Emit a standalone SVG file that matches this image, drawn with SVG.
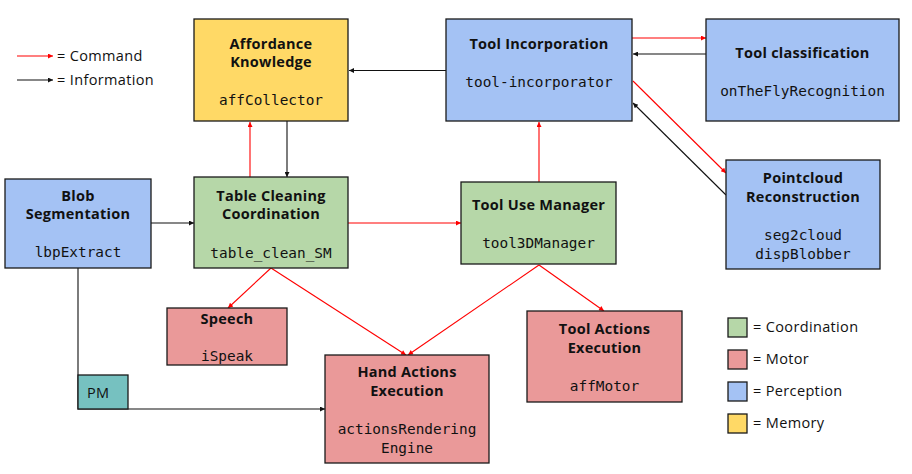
<svg xmlns="http://www.w3.org/2000/svg" width="912" height="474" viewBox="0 0 912 474">
<style>
.box{stroke:#1a1a1a;stroke-width:1.3}
.g{fill:#B6D7A8}.r{fill:#EA9999}.b{fill:#A4C2F4}.y{fill:#FFD966}.t{fill:#76C1C0}
.ti{font-family:"Open Sans",Lato,sans-serif;font-weight:bold;font-size:14.5px;letter-spacing:0.25px;fill:#111;text-anchor:middle}
.mo{font-family:"DejaVu Sans Mono","Liberation Mono",monospace;font-size:14.4px;fill:#111;text-anchor:middle}
.lg{font-family:"Open Sans",Lato,sans-serif;font-size:14.5px;letter-spacing:0.35px;fill:#111}
.cmd{stroke:#ff0000;stroke-width:1.1;fill:none}
.inf{stroke:#111;stroke-width:1.1;fill:none}
</style>
<defs>
<marker id="ar" viewBox="0 0 10 10" refX="10" refY="5" markerWidth="7" markerHeight="5" markerUnits="userSpaceOnUse" orient="auto"><path d="M0,0L10,5L0,10z" fill="#ff0000"/></marker>
<marker id="ab" viewBox="0 0 10 10" refX="10" refY="5" markerWidth="7" markerHeight="5" markerUnits="userSpaceOnUse" orient="auto"><path d="M0,0L10,5L0,10z" fill="#111"/></marker>
</defs>
<rect width="912" height="474" fill="#fff"/>

<g id="legend-arrows">
<line class="cmd" x1="17" y1="56" x2="53" y2="56" marker-end="url(#ar)"/>
<text class="lg" x="57" y="61">= Command</text>
<line class="inf" x1="17" y1="80" x2="53" y2="80" marker-end="url(#ab)"/>
<text class="lg" x="57" y="85">= Information</text>
</g>

<g id="connectors">
<line class="inf" x1="446" y1="70.5" x2="349" y2="70.5" marker-end="url(#ab)"/>
<line class="cmd" x1="632" y1="38" x2="706" y2="38" marker-end="url(#ar)"/>
<line class="inf" x1="706" y1="54" x2="633" y2="54" marker-end="url(#ab)"/>
<line class="cmd" x1="633" y1="81" x2="726" y2="173" marker-end="url(#ar)"/>
<line class="inf" x1="726" y1="195" x2="633" y2="103" marker-end="url(#ab)"/>
<line class="cmd" x1="250" y1="177" x2="250" y2="122" marker-end="url(#ar)"/>
<line class="inf" x1="287" y1="121" x2="287" y2="177" marker-end="url(#ab)"/>
<line class="inf" x1="151" y1="223" x2="194" y2="223" marker-end="url(#ab)"/>
<line class="cmd" x1="348" y1="223" x2="461" y2="223" marker-end="url(#ar)"/>
<line class="cmd" x1="539" y1="182" x2="539" y2="122" marker-end="url(#ar)"/>
<line class="cmd" x1="271" y1="268" x2="228" y2="308" marker-end="url(#ar)"/>
<line class="cmd" x1="271" y1="268" x2="406" y2="355" marker-end="url(#ar)"/>
<line class="cmd" x1="539" y1="265" x2="408" y2="355" marker-end="url(#ar)"/>
<line class="cmd" x1="539" y1="265" x2="604" y2="311" marker-end="url(#ar)"/>
<polyline class="inf" points="78,268 78,409 325,409" marker-end="url(#ab)"/>
</g>

<g id="affordance">
<rect class="box y" x="194" y="19" width="154" height="102"/>
<text class="ti" x="271" y="49">Affordance</text>
<text class="ti" x="271" y="67">Knowledge</text>
<text class="mo" x="271" y="105">affCollector</text>
</g>

<g id="tool-incorporation">
<rect class="box b" x="446" y="19" width="186" height="102"/>
<text class="ti" x="539" y="49">Tool Incorporation</text>
<text class="mo" x="539" y="87">tool-incorporator</text>
</g>

<g id="tool-classification">
<rect class="box b" x="706" y="19" width="193" height="102"/>
<text class="ti" x="802.5" y="58">Tool classification</text>
<text class="mo" x="802.5" y="96">onTheFlyRecognition</text>
</g>

<g id="pointcloud">
<rect class="box b" x="726" y="160" width="154" height="109"/>
<text class="ti" x="803" y="183">Pointcloud</text>
<text class="ti" x="803" y="202">Reconstruction</text>
<text class="mo" x="803" y="240">seg2cloud</text>
<text class="mo" x="803" y="259">dispBlobber</text>
</g>

<g id="blob-segmentation">
<rect class="box b" x="5" y="179" width="146" height="89"/>
<text class="ti" x="78" y="201">Blob</text>
<text class="ti" x="78" y="219">Segmentation</text>
<text class="mo" x="78" y="257">lbpExtract</text>
</g>

<g id="table-cleaning">
<rect class="box g" x="194" y="177" width="154" height="91"/>
<text class="ti" x="271" y="201">Table Cleaning</text>
<text class="ti" x="271" y="219">Coordination</text>
<text class="mo" x="271" y="258">table_clean_SM</text>
</g>

<g id="tool-use-manager">
<rect class="box g" x="461" y="182" width="155" height="82"/>
<text class="ti" x="538.5" y="210">Tool Use Manager</text>
<text class="mo" x="538.5" y="248">tool3DManager</text>
</g>

<g id="speech">
<rect class="box r" x="167" y="308" width="120" height="57"/>
<text class="ti" x="227" y="324">Speech</text>
<text class="mo" x="227" y="361">iSpeak</text>
</g>

<g id="pm">
<rect class="box t" x="78" y="375" width="50" height="34"/>
<text class="lg" x="87" y="398">PM</text>
</g>

<g id="hand-actions">
<rect class="box r" x="325" y="355" width="164" height="108"/>
<text class="ti" x="407" y="377">Hand Actions</text>
<text class="ti" x="407" y="396">Execution</text>
<text class="mo" x="407" y="434">actionsRendering</text>
<text class="mo" x="407" y="453">Engine</text>
</g>

<g id="tool-actions">
<rect class="box r" x="527" y="311" width="155" height="91"/>
<text class="ti" x="604.5" y="334">Tool Actions</text>
<text class="ti" x="604.5" y="353">Execution</text>
<text class="mo" x="604.5" y="391">affMotor</text>
</g>

<g id="legend-colors">
<rect class="box g" x="728" y="318" width="19" height="19"/>
<text class="lg" x="753" y="332">= Coordination</text>
<rect class="box r" x="728" y="350" width="19" height="19"/>
<text class="lg" x="753" y="364">= Motor</text>
<rect class="box b" x="728" y="382" width="19" height="19"/>
<text class="lg" x="753" y="396">= Perception</text>
<rect class="box y" x="728" y="414" width="19" height="19"/>
<text class="lg" x="753" y="428">= Memory</text>
</g>
</svg>
